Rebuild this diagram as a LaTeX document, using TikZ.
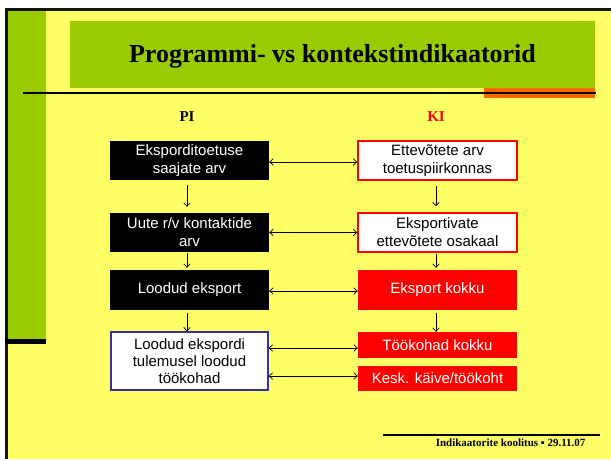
\documentclass[tikz,border=0pt]{standalone}
\usepackage{fontspec}
\setmainfont{Liberation Serif}
\setsansfont{Liberation Sans}
\usetikzlibrary{arrows.meta}
\definecolor{slideyellow}{HTML}{FFFF66}
\definecolor{slidegreen}{HTML}{99CC00}
\definecolor{slideorange}{HTML}{FF6600}
\definecolor{boxblue}{HTML}{333399}
\definecolor{framedark}{HTML}{141400}
\begin{document}
\begin{tikzpicture}[x=1pt,y=-1pt,
  box/.style={minimum width=159pt, minimum height=39pt, inner sep=0pt, align=center,
    font=\sffamily\fontsize{15}{18}\selectfont},
  blackbox/.style={box, fill=black, text=white},
  redline/.style={box, fill=white, draw=red, line width=1.5pt},
  redbox/.style={box, fill=red, text=white},
  bluebox/.style={box, fill=white, draw=boxblue, line width=1.2pt,
    font=\sffamily\fontsize{15}{17}\selectfont},
  tip/.tip={Straight Barb[length=3.5pt,width=6.5pt]},
  link/.style={line width=0.7pt, tip-tip},
  down/.style={line width=0.7pt, -tip}]
\useasboundingbox (0,0) rectangle (611,459);
% background
\fill[white] (0,0) rectangle (611,459);
\fill[slideyellow] (5,8) rectangle (611,459);
\fill[framedark] (5,8) rectangle (611,11);
\fill[framedark] (5,8) rectangle (8,459);
\fill[slidegreen] (8,11) rectangle (46,339);
\fill[black] (5,339) rectangle (46,343.5);
% title
\fill[slidegreen] (70,21) rectangle (595,88);
\fill[slideorange] (484,88) rectangle (595,98);
\draw[line width=1.7pt] (23,93) -- (596,93);
\node[anchor=base, font=\bfseries\fontsize{26}{30}\selectfont] (title) at (332.5,62) {Programmi- vs kontekstindikaatorid};
% column heads
\node[anchor=base, font=\bfseries\fontsize{15}{16}\selectfont] (pi) at (187,121.7) {PI};
\node[anchor=base, font=\bfseries\fontsize{15}{16}\selectfont, text=red] (ki) at (436,121.7) {KI};
% boxes
\node[blackbox] (L1) at (189.5,160.5) {Eksporditoetuse\\saajate arv};
\node[redline] (R1) at (437.5,160.5) {Ettevõtete arv\\toetuspiirkonnas};
\node[blackbox] (L2) at (189.5,232.5) {Uute r/v kontaktide\\arv};
\node[redline] (R2) at (437.5,232.5) {Eksportivate\\ettevõtete osakaal};
\node[blackbox, minimum height=40pt] (L3) at (189.5,290) {Loodud eksport};
\node[redbox, minimum height=40pt] (R3) at (437.5,290) {Eksport kokku};
\node[bluebox, minimum width=157pt, minimum height=58pt] (L4) at (189.5,361) {Loodud ekspordi\\tulemusel loodud\\töökohad};
\node[redbox, minimum height=26pt] (R4) at (437.5,345) {Töökohad kokku};
\node[redbox, minimum height=25pt] (R5) at (437.5,378.5) {Kesk. käive/töökoht};
% horizontal links
\draw[link] ([yshift=-1.5pt]L1.east) -- ([yshift=-1.5pt]R1.west);
\draw[link] (L2.east) -- (R2.west);
\draw[link] ([yshift=-1pt]L3.east) -- ([yshift=-1pt]R3.west);
\path (R4.west) ++(0,3) coordinate (r4a);
\path (R5.west) ++(0,-2.5) coordinate (r5a);
\draw[link] (L4.east |- r4a) -- (r4a);
\draw[link] (L4.east |- r5a) -- (r5a);
% vertical arrows
\draw[down, shorten <=5pt, shorten >=6pt] ([xshift=-2.5pt]L1.south) -- ([xshift=-2.5pt]L2.north);
\draw[down, shorten <=1pt, shorten >=2pt] ([xshift=-2.5pt]L2.south) -- ([xshift=-2.5pt]L3.north);
\draw[down, shorten <=3pt] ([xshift=-2.5pt]L3.south) -- ([xshift=-2.5pt]L4.north);
\draw[down, shorten <=5pt, shorten >=6pt] ([xshift=-1.5pt]R1.south) -- ([xshift=-1.5pt]R2.north);
\draw[down, shorten <=1pt, shorten >=2pt] ([xshift=-1.5pt]R2.south) -- ([xshift=-1.5pt]R3.north);
\draw[down, shorten <=3pt] ([xshift=-1.5pt]R3.south) -- ([xshift=-1.5pt]R4.north);
% footer
\draw[line width=1.6pt] (383,435) -- (600,435);
\node[anchor=base east, font=\bfseries\fontsize{11}{13}\selectfont] (foot) at (589,446) {Indikaatorite koolitus ▪ 29.11.07};
\end{tikzpicture}
\end{document}
